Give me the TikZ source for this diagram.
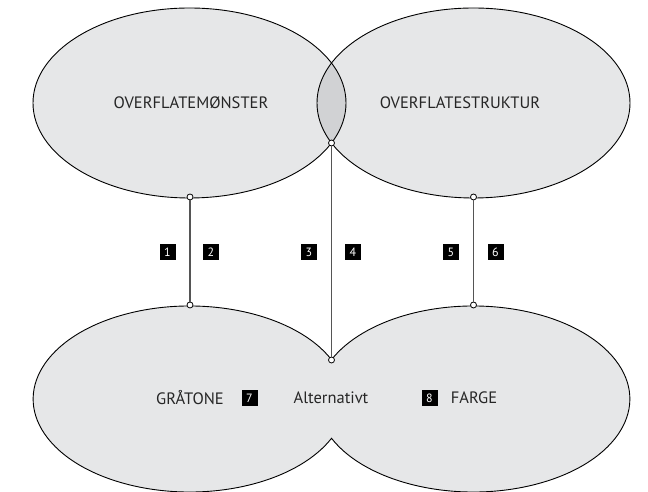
\documentclass[tikz,border=0pt]{standalone}
\usepackage{fontspec}
\setmainfont{PT Sans}
\begin{document}
\begin{tikzpicture}[x=1pt,y=1pt,
  blob/.style={fill=areagray,draw=black,line width=0.9pt},
  joint/.style={circle,draw=black,fill=white,line width=0.8pt,inner sep=0pt,minimum size=6pt},
  link/.style={draw=linkgray,line width=1.2pt},
  tag/.style={font=\fontsize{16.5}{19}\selectfont,text=black!85},
  numbox/.style={fill=black,text=white,inner sep=0pt,minimum size=16pt,font=\fontsize{12}{13}\selectfont}]
\definecolor{areagray}{HTML}{E6E7E8}
\definecolor{lensgray}{HTML}{D1D2D4}
\definecolor{linkgray}{HTML}{555555}
\useasboundingbox (0,0) rectangle (648,492);

% upper pair of overlapping ellipses
\fill[areagray] (189.5,389) ellipse [x radius=156.5, y radius=95];
\fill[areagray] (473.5,389) ellipse [x radius=156.5, y radius=95];
\begin{scope}
  \clip (189.5,389) ellipse [x radius=156.5, y radius=95];
  \fill[lensgray] (473.5,389) ellipse [x radius=156.5, y radius=95];
\end{scope}
\draw[line width=0.9pt] (189.5,389) ellipse [x radius=156.5, y radius=95];
\draw[line width=0.9pt] (473.5,389) ellipse [x radius=156.5, y radius=95];

% lower pair, drawn as one merged outline
\path[blob] (331.5,132.3)
  arc[start angle=25, end angle=335, x radius=156.5, y radius=93]
  arc[start angle=205, end angle=515, x radius=156.5, y radius=93] -- cycle;

% labels
\node[tag] (tl) at (191,389) {OVERFLATEMØNSTER};
\node[tag] (tr) at (460,389) {OVERFLATESTRUKTUR};
\node[tag] (bl) at (190,94) {GRÅTONE};
\node[tag] (alt) at (331,94) {Alternativt};
\node[tag] (br) at (474,94) {FARGE};

% connection points
\node[joint] (a1) at (190,295) {};
\node[joint] (a2) at (190,187) {};
\node[joint] (b1) at (331.5,349) {};
\node[joint] (b2) at (331.5,132) {};
\node[joint] (c1) at (473.5,295) {};
\node[joint] (c2) at (473.5,187) {};
\draw[link] (a1) -- (a2);
\draw[link] (b1) -- (b2);
\draw[link] (c1) -- (c2);

% numbered markers
\node[numbox] (n1) at (167.5,240) {1};
\node[numbox] (n2) at (211,240) {2};
\node[numbox] (n3) at (309,240) {3};
\node[numbox] (n4) at (353,240) {4};
\node[numbox] (n5) at (451,240) {5};
\node[numbox] (n6) at (495.5,240) {6};
\node[numbox] (n7) at (249.5,94) {7};
\node[numbox] (n8) at (429.5,94) {8};
\end{tikzpicture}
\end{document}
